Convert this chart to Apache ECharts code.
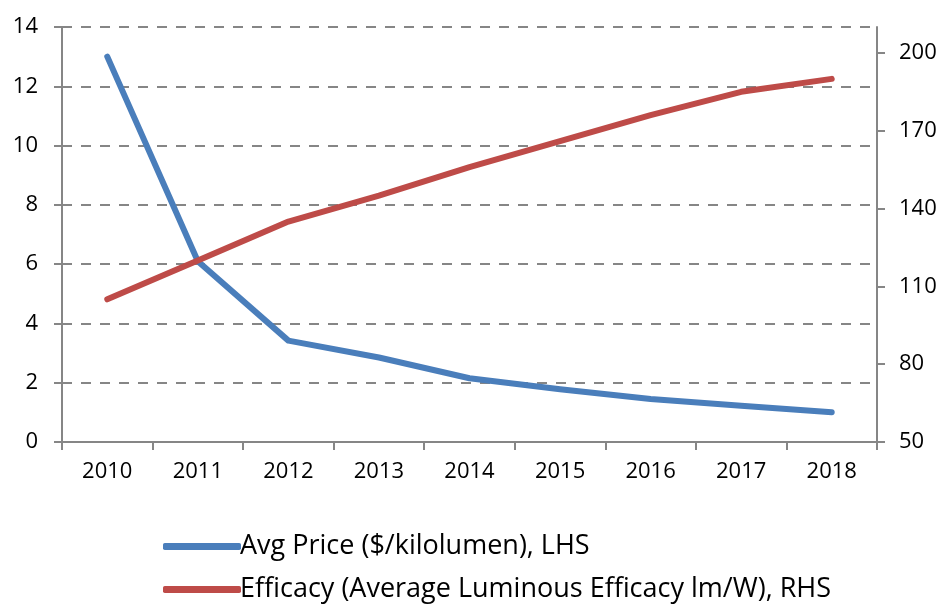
<!DOCTYPE html>
<html>
<head>
<meta charset="utf-8">
<script src="https://cdn.jsdelivr.net/npm/echarts@6/dist/echarts.min.js"></script>
<style>
  html, body { margin: 0; padding: 0; background: #fff; }
  #chart { width: 941px; height: 605px; }
</style>
</head>
<body>
<div id="chart"></div>
<script>
    var years = ['2010', '2011', '2012', '2013', '2014', '2015', '2016', '2017', '2018'];
    // LHS: $/kilolumen
    var avgPrice = [13.0, 6.1, 3.42, 2.85, 2.15, 1.78, 1.45, 1.22, 1.0];
    // RHS: lm/W
    var efficacy = [105, 120, 135, 145, 156, 166, 176, 185, 190];

    var priceName = 'Avg Price ($/kilolumen), LHS';
    var efficacyName = 'Efficacy (Average Luminous Efficacy lm/W), RHS';

    var axisGrey = '#868686';
    var fontName = 'Open Sans';

    var chart = echarts.init(document.getElementById('chart'));

    var option = {
        backgroundColor: '#fff',
        animation: false,
        grid: {
            left: 62,
            right: 64,
            top: 27,
            bottom: 163,
            containLabel: false
        },
        legend: {
            orient: 'vertical',
            left: 158,
            top: 528,
            height: 140,
            itemWidth: 78,
            itemHeight: 7,
            itemGap: 16,
            icon: 'roundRect',
            textStyle: {
                fontFamily: fontName,
                fontSize: 27,
                color: '#000',
                padding: [0, 0, 0, -6]
            },
            data: [priceName, efficacyName]
        },
        xAxis: {
            type: 'category',
            data: years,
            boundaryGap: true,
            axisLine: { lineStyle: { color: axisGrey, width: 2 } },
            axisTick: { show: true, length: 8, lineStyle: { color: axisGrey, width: 2 } },
            axisLabel: {
                color: '#000',
                fontFamily: fontName,
                fontSize: 22,
                margin: 19
            }
        },
        yAxis: [
            {
                type: 'value',
                min: 0,
                max: 14,
                interval: 2,
                position: 'left',
                axisLine: { show: true, lineStyle: { color: axisGrey, width: 2 } },
                axisTick: { show: true, length: 8, lineStyle: { color: axisGrey, width: 2 } },
                axisLabel: {
                    color: '#000',
                    fontFamily: fontName,
                    fontSize: 22,
                    margin: 24
                },
                splitLine: {
                    show: true,
                    lineStyle: { color: axisGrey, width: 2, type: [10, 9] }
                }
            },
            {
                type: 'value',
                min: 50,
                max: 210,
                interval: 30,
                position: 'right',
                axisLine: { show: true, lineStyle: { color: axisGrey, width: 2 } },
                axisTick: { show: true, length: 8, lineStyle: { color: axisGrey, width: 2 } },
                axisLabel: {
                    color: '#000',
                    fontFamily: fontName,
                    fontSize: 22,
                    margin: 22,
                    showMaxLabel: false
                },
                splitLine: { show: false }
            }
        ],
        series: [
            {
                name: priceName,
                type: 'line',
                yAxisIndex: 0,
                data: avgPrice,
                symbol: 'none',
                smooth: false,
                lineStyle: { color: '#4a7ebb', width: 6, cap: 'round', join: 'round' },
                itemStyle: { color: '#4a7ebb' }
            },
            {
                name: efficacyName,
                type: 'line',
                yAxisIndex: 1,
                data: efficacy,
                symbol: 'none',
                smooth: false,
                lineStyle: { color: '#be4b48', width: 6, cap: 'round', join: 'round' },
                itemStyle: { color: '#be4b48' }
            }
        ]
    };

    chart.setOption(option);
</script>
</body>
</html>
